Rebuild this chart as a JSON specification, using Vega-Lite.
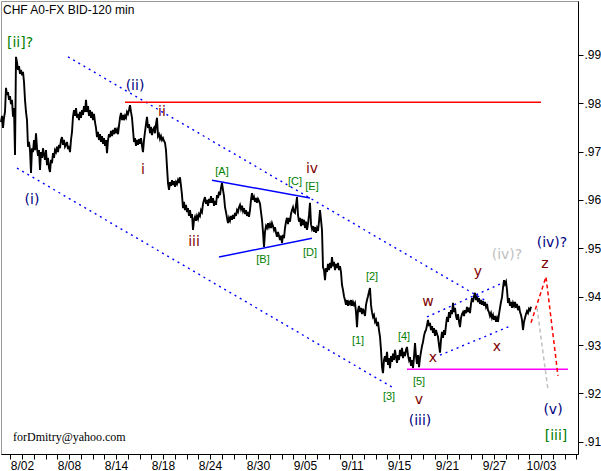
{
"$schema": "https://vega.github.io/schema/vega-lite/v6.json",
"width": 577, "height": 453, "autosize": "none",
"padding": {"left": 1, "top": 1, "right": 23, "bottom": 17},
"background": "white",
"config": {"view": {"stroke": "#999999", "strokeWidth": 1},
 "axis": {"grid": false, "title": null, "domainColor": "black", "tickColor": "black", "labelColor": "black", "labelFont": "Liberation Sans", "labelFontSize": 12, "tickSize": 5}},
"datasets": {
"price": [
{"bar":0,"price":0.9761},{"bar":1,"price":0.9774},{"bar":2,"price":0.9749},{"bar":3,"price":0.9770},{"bar":4,"price":0.9782},{"bar":5,"price":0.9832},{"bar":6,"price":0.9817},{"bar":7,"price":0.9823},{"bar":8,"price":0.9807},{"bar":9,"price":0.9815},{"bar":10,"price":0.9798},{"bar":11,"price":0.9807},{"bar":12,"price":0.9772},{"bar":13,"price":0.9790},{"bar":14,"price":0.9693},{"bar":15,"price":0.9896},{"bar":16,"price":0.9885},{"bar":17,"price":0.9869},{"bar":18,"price":0.9877},{"bar":19,"price":0.9861},{"bar":20,"price":0.9869},{"bar":21,"price":0.9858},{"bar":22,"price":0.9865},{"bar":23,"price":0.9844},{"bar":24,"price":0.9807},{"bar":25,"price":0.9782},{"bar":26,"price":0.9765},{"bar":27,"price":0.9710},{"bar":28,"price":0.9720},{"bar":29,"price":0.9703},{"bar":30,"price":0.9656},
{"bar":31,"price":0.9707},{"bar":32,"price":0.9699},{"bar":33,"price":0.9724},{"bar":34,"price":0.9703},{"bar":35,"price":0.9738},{"bar":36,"price":0.9707},{"bar":37,"price":0.9691},{"bar":38,"price":0.9703},{"bar":39,"price":0.9662},{"bar":40,"price":0.9699},{"bar":41,"price":0.9687},{"bar":42,"price":0.9707},{"bar":43,"price":0.9693},{"bar":44,"price":0.9683},{"bar":45,"price":0.9703},{"bar":46,"price":0.9672},{"bar":47,"price":0.9687},{"bar":48,"price":0.9666},{"bar":49,"price":0.9658},{"bar":50,"price":0.9683},{"bar":51,"price":0.9676},{"bar":52,"price":0.9697},{"bar":53,"price":0.9687},{"bar":54,"price":0.9703},{"bar":55,"price":0.9699},{"bar":56,"price":0.9710},{"bar":57,"price":0.9699},{"bar":58,"price":0.9714},{"bar":59,"price":0.9707},{"bar":60,"price":0.9724},{"bar":61,"price":0.9730},{"bar":62,"price":0.9714},{"bar":63,"price":0.9724},{"bar":64,"price":0.9710},{"bar":65,"price":0.9714},{"bar":66,"price":0.9720},{"bar":67,"price":0.9705},{"bar":68,"price":0.9712},{"bar":69,"price":0.9699},{"bar":70,"price":0.9724},{"bar":71,"price":0.9741},{"bar":72,"price":0.9772},
{"bar":73,"price":0.9786},{"bar":74,"price":0.9774},{"bar":75,"price":0.9790},{"bar":76,"price":0.9770},{"bar":77,"price":0.9778},{"bar":78,"price":0.9765},{"bar":79,"price":0.9782},{"bar":80,"price":0.9770},{"bar":81,"price":0.9786},{"bar":82,"price":0.9776},{"bar":83,"price":0.9794},{"bar":84,"price":0.9782},{"bar":85,"price":0.9807},{"bar":86,"price":0.9782},{"bar":87,"price":0.9794},{"bar":88,"price":0.9774},{"bar":89,"price":0.9786},{"bar":90,"price":0.9770},{"bar":91,"price":0.9782},{"bar":92,"price":0.9765},{"bar":93,"price":0.9778},{"bar":94,"price":0.9761},{"bar":95,"price":0.9749},{"bar":96,"price":0.9730},{"bar":97,"price":0.9741},{"bar":98,"price":0.9724},{"bar":99,"price":0.9736},{"bar":100,"price":0.9720},{"bar":101,"price":0.9732},{"bar":102,"price":0.9716},{"bar":103,"price":0.9728},{"bar":104,"price":0.9712},{"bar":105,"price":0.9724},{"bar":106,"price":0.9697},{"bar":107,"price":0.9724},{"bar":108,"price":0.9736},{"bar":109,"price":0.9730},{"bar":110,"price":0.9743},{"bar":111,"price":0.9732},{"bar":112,"price":0.9745},{"bar":113,"price":0.9736},{"bar":114,"price":0.9749},{"bar":115,"price":0.9738},{"bar":116,"price":0.9745},{"bar":117,"price":0.9736},{"bar":118,"price":0.9753},{"bar":119,"price":0.9770},{"bar":120,"price":0.9780},{"bar":121,"price":0.9765},{"bar":122,"price":0.9776},{"bar":123,"price":0.9765},{"bar":124,"price":0.9774},{"bar":125,"price":0.9770},{"bar":126,"price":0.9782},{"bar":127,"price":0.9778},{"bar":128,"price":0.9786},{"bar":129,"price":0.9796},
{"bar":130,"price":0.9782},{"bar":131,"price":0.9770},{"bar":132,"price":0.9745},{"bar":133,"price":0.9720},{"bar":134,"price":0.9728},{"bar":135,"price":0.9712},{"bar":136,"price":0.9724},{"bar":137,"price":0.9714},{"bar":138,"price":0.9726},{"bar":139,"price":0.9716},{"bar":140,"price":0.9728},{"bar":141,"price":0.9712},{"bar":142,"price":0.9699},{"bar":143,"price":0.9724},{"bar":144,"price":0.9741},{"bar":145,"price":0.9757},{"bar":146,"price":0.9772},{"bar":147,"price":0.9749},{"bar":148,"price":0.9757},{"bar":149,"price":0.9738},{"bar":150,"price":0.9751},{"bar":151,"price":0.9734},{"bar":152,"price":0.9745},{"bar":153,"price":0.9749},{"bar":154,"price":0.9738},{"bar":155,"price":0.9757},{"bar":156,"price":0.9770},{"bar":157,"price":0.9732},{"bar":158,"price":0.9736},{"bar":159,"price":0.9726},{"bar":160,"price":0.9732},{"bar":161,"price":0.9724},{"bar":162,"price":0.9728},{"bar":163,"price":0.9722},{"bar":164,"price":0.9718},
{"bar":165,"price":0.9703},{"bar":166,"price":0.9668},{"bar":167,"price":0.9635},{"bar":168,"price":0.9621},{"bar":169,"price":0.9637},{"bar":170,"price":0.9629},{"bar":171,"price":0.9641},{"bar":172,"price":0.9631},{"bar":173,"price":0.9639},{"bar":174,"price":0.9627},{"bar":175,"price":0.9637},{"bar":176,"price":0.9633},{"bar":177,"price":0.9641},{"bar":178,"price":0.9635},{"bar":179,"price":0.9647},{"bar":180,"price":0.9629},{"bar":181,"price":0.9610},{"bar":182,"price":0.9583},{"bar":183,"price":0.9596},{"bar":184,"price":0.9579},{"bar":185,"price":0.9590},{"bar":186,"price":0.9575},{"bar":187,"price":0.9583},{"bar":188,"price":0.9567},{"bar":189,"price":0.9579},{"bar":190,"price":0.9563},{"bar":191,"price":0.9571},{"bar":192,"price":0.9538},{"bar":193,"price":0.9559},{"bar":194,"price":0.9565},{"bar":195,"price":0.9557},{"bar":196,"price":0.9567},{"bar":197,"price":0.9561},{"bar":198,"price":0.9571},{"bar":199,"price":0.9567},{"bar":200,"price":0.9579},{"bar":201,"price":0.9575},{"bar":202,"price":0.9592},{"bar":203,"price":0.9600},{"bar":204,"price":0.9606},{"bar":205,"price":0.9592},{"bar":206,"price":0.9600},{"bar":207,"price":0.9588},{"bar":208,"price":0.9602},{"bar":209,"price":0.9594},{"bar":210,"price":0.9608},{"bar":211,"price":0.9594},{"bar":212,"price":0.9604},{"bar":213,"price":0.9588},{"bar":214,"price":0.9598},{"bar":215,"price":0.9590},{"bar":216,"price":0.9610},{"bar":217,"price":0.9604},{"bar":218,"price":0.9617},{"bar":219,"price":0.9610},{"bar":220,"price":0.9625},{"bar":221,"price":0.9635},
{"bar":222,"price":0.9621},{"bar":223,"price":0.9608},{"bar":224,"price":0.9585},{"bar":225,"price":0.9575},{"bar":226,"price":0.9563},{"bar":227,"price":0.9552},{"bar":228,"price":0.9563},{"bar":229,"price":0.9557},{"bar":230,"price":0.9567},{"bar":231,"price":0.9559},{"bar":232,"price":0.9569},{"bar":233,"price":0.9561},{"bar":234,"price":0.9573},{"bar":235,"price":0.9567},{"bar":236,"price":0.9579},{"bar":237,"price":0.9575},{"bar":238,"price":0.9585},{"bar":239,"price":0.9590},{"bar":240,"price":0.9581},{"bar":241,"price":0.9588},{"bar":242,"price":0.9577},{"bar":243,"price":0.9583},{"bar":244,"price":0.9571},{"bar":245,"price":0.9579},{"bar":246,"price":0.9567},{"bar":247,"price":0.9575},{"bar":248,"price":0.9565},{"bar":249,"price":0.9579},{"bar":250,"price":0.9600},{"bar":251,"price":0.9614},{"bar":252,"price":0.9600},{"bar":253,"price":0.9606},{"bar":254,"price":0.9596},{"bar":255,"price":0.9604},{"bar":256,"price":0.9594},{"bar":257,"price":0.9602},{"bar":258,"price":0.9598},{"bar":259,"price":0.9592},{"bar":260,"price":0.9575},{"bar":261,"price":0.9559},{"bar":262,"price":0.9534},{"bar":263,"price":0.9503},{"bar":264,"price":0.9534},{"bar":265,"price":0.9546},{"bar":266,"price":0.9542},{"bar":267,"price":0.9552},{"bar":268,"price":0.9544},{"bar":269,"price":0.9550},{"bar":270,"price":0.9542},{"bar":271,"price":0.9552},{"bar":272,"price":0.9546},{"bar":273,"price":0.9538},{"bar":274,"price":0.9544},{"bar":275,"price":0.9532},{"bar":276,"price":0.9524},{"bar":277,"price":0.9534},{"bar":278,"price":0.9526},{"bar":279,"price":0.9517},{"bar":280,"price":0.9526},{"bar":281,"price":0.9511},{"bar":282,"price":0.9528},{"bar":283,"price":0.9521},{"bar":284,"price":0.9542},{"bar":285,"price":0.9555},{"bar":286,"price":0.9563},
{"bar":287,"price":0.9550},{"bar":288,"price":0.9563},{"bar":289,"price":0.9555},{"bar":290,"price":0.9571},{"bar":291,"price":0.9579},{"bar":292,"price":0.9585},{"bar":293,"price":0.9575},{"bar":294,"price":0.9573},{"bar":295,"price":0.9590},{"bar":296,"price":0.9606},{"bar":297,"price":0.9569},{"bar":298,"price":0.9555},{"bar":299,"price":0.9563},{"bar":300,"price":0.9546},{"bar":301,"price":0.9561},{"bar":302,"price":0.9548},{"bar":303,"price":0.9559},{"bar":304,"price":0.9542},{"bar":305,"price":0.9555},{"bar":306,"price":0.9538},{"bar":307,"price":0.9550},{"bar":308,"price":0.9569},{"bar":309,"price":0.9594},{"bar":310,"price":0.9550},{"bar":311,"price":0.9540},{"bar":312,"price":0.9546},{"bar":313,"price":0.9534},{"bar":314,"price":0.9544},{"bar":315,"price":0.9532},{"bar":316,"price":0.9542},{"bar":317,"price":0.9536},{"bar":318,"price":0.9555},{"bar":319,"price":0.9579},{"bar":320,"price":0.9559},{"bar":321,"price":0.9538},{"bar":322,"price":0.9461},
{"bar":323,"price":0.9455},{"bar":324,"price":0.9434},{"bar":325,"price":0.9459},{"bar":326,"price":0.9451},{"bar":327,"price":0.9468},{"bar":328,"price":0.9455},{"bar":329,"price":0.9470},{"bar":330,"price":0.9459},{"bar":331,"price":0.9482},{"bar":332,"price":0.9463},{"bar":333,"price":0.9472},{"bar":334,"price":0.9455},{"bar":335,"price":0.9468},{"bar":336,"price":0.9459},{"bar":337,"price":0.9470},{"bar":338,"price":0.9455},{"bar":339,"price":0.9463},{"bar":340,"price":0.9451},{"bar":341,"price":0.9424},{"bar":342,"price":0.9414},{"bar":343,"price":0.9401},{"bar":344,"price":0.9393},{"bar":345,"price":0.9383},{"bar":346,"price":0.9393},{"bar":347,"price":0.9381},{"bar":348,"price":0.9389},{"bar":349,"price":0.9385},{"bar":350,"price":0.9393},{"bar":351,"price":0.9381},{"bar":352,"price":0.9389},{"bar":353,"price":0.9383},{"bar":354,"price":0.9387},{"bar":355,"price":0.9368},{"bar":356,"price":0.9337},{"bar":357,"price":0.9372},{"bar":358,"price":0.9381},{"bar":359,"price":0.9368},{"bar":360,"price":0.9377},{"bar":361,"price":0.9364},{"bar":362,"price":0.9375},{"bar":363,"price":0.9368},{"bar":364,"price":0.9360},{"bar":365,"price":0.9383},{"bar":366,"price":0.9393},{"bar":367,"price":0.9401},{"bar":368,"price":0.9410},{"bar":369,"price":0.9418},{"bar":370,"price":0.9383},{"bar":371,"price":0.9368},{"bar":372,"price":0.9358},{"bar":373,"price":0.9362},{"bar":374,"price":0.9348},{"bar":375,"price":0.9352},{"bar":376,"price":0.9339},{"bar":377,"price":0.9348},{"bar":378,"price":0.9331},{"bar":379,"price":0.9317},{"bar":380,"price":0.9290},{"bar":381,"price":0.9254},{"bar":382,"price":0.9242},
{"bar":383,"price":0.9269},{"bar":384,"price":0.9277},{"bar":385,"price":0.9265},{"bar":386,"price":0.9286},{"bar":387,"price":0.9259},{"bar":388,"price":0.9273},{"bar":389,"price":0.9252},{"bar":390,"price":0.9277},{"bar":391,"price":0.9265},{"bar":392,"price":0.9282},{"bar":393,"price":0.9269},{"bar":394,"price":0.9290},{"bar":395,"price":0.9275},{"bar":396,"price":0.9263},{"bar":397,"price":0.9279},{"bar":398,"price":0.9269},{"bar":399,"price":0.9290},{"bar":400,"price":0.9277},{"bar":401,"price":0.9294},{"bar":402,"price":0.9273},{"bar":403,"price":0.9286},{"bar":404,"price":0.9277},{"bar":405,"price":0.9290},{"bar":406,"price":0.9296},{"bar":407,"price":0.9279},{"bar":408,"price":0.9269},{"bar":409,"price":0.9275},{"bar":410,"price":0.9257},{"bar":411,"price":0.9269},{"bar":412,"price":0.9252},{"bar":413,"price":0.9275},{"bar":414,"price":0.9304},{"bar":415,"price":0.9277},{"bar":416,"price":0.9261},{"bar":417,"price":0.9279},{"bar":418,"price":0.9254},{"bar":419,"price":0.9273},{"bar":420,"price":0.9286},{"bar":421,"price":0.9298},{"bar":422,"price":0.9306},{"bar":423,"price":0.9319},{"bar":424,"price":0.9327},{"bar":425,"price":0.9331},{"bar":426,"price":0.9341},{"bar":427,"price":0.9352},
{"bar":428,"price":0.9339},{"bar":429,"price":0.9346},{"bar":430,"price":0.9331},{"bar":431,"price":0.9339},{"bar":432,"price":0.9325},{"bar":433,"price":0.9335},{"bar":434,"price":0.9319},{"bar":435,"price":0.9331},{"bar":436,"price":0.9323},{"bar":437,"price":0.9317},{"bar":438,"price":0.9300},{"bar":439,"price":0.9284},{"bar":440,"price":0.9310},{"bar":441,"price":0.9327},{"bar":442,"price":0.9315},{"bar":443,"price":0.9331},{"bar":444,"price":0.9321},{"bar":445,"price":0.9341},{"bar":446,"price":0.9358},{"bar":447,"price":0.9348},{"bar":448,"price":0.9368},{"bar":449,"price":0.9356},{"bar":450,"price":0.9372},{"bar":451,"price":0.9364},{"bar":452,"price":0.9387},{"bar":453,"price":0.9368},{"bar":454,"price":0.9377},{"bar":455,"price":0.9360},{"bar":456,"price":0.9352},{"bar":457,"price":0.9364},{"bar":458,"price":0.9348},{"bar":459,"price":0.9337},{"bar":460,"price":0.9356},{"bar":461,"price":0.9364},{"bar":462,"price":0.9368},{"bar":463,"price":0.9360},{"bar":464,"price":0.9372},{"bar":465,"price":0.9366},{"bar":466,"price":0.9379},{"bar":467,"price":0.9368},{"bar":468,"price":0.9377},{"bar":469,"price":0.9366},{"bar":470,"price":0.9385},{"bar":471,"price":0.9397},{"bar":472,"price":0.9389},{"bar":473,"price":0.9401},{"bar":474,"price":0.9408},{"bar":475,"price":0.9393},{"bar":476,"price":0.9399},{"bar":477,"price":0.9389},{"bar":478,"price":0.9397},{"bar":479,"price":0.9385},{"bar":480,"price":0.9393},{"bar":481,"price":0.9383},{"bar":482,"price":0.9391},{"bar":483,"price":0.9381},{"bar":484,"price":0.9389},{"bar":485,"price":0.9379},{"bar":486,"price":0.9385},{"bar":487,"price":0.9372},{"bar":488,"price":0.9368},{"bar":489,"price":0.9360},{"bar":490,"price":0.9366},{"bar":491,"price":0.9356},{"bar":492,"price":0.9362},{"bar":493,"price":0.9352},{"bar":494,"price":0.9360},{"bar":495,"price":0.9348},{"bar":496,"price":0.9356},{"bar":497,"price":0.9348},{"bar":498,"price":0.9364},{"bar":499,"price":0.9377},{"bar":500,"price":0.9389},{"bar":501,"price":0.9399},{"bar":502,"price":0.9418},{"bar":503,"price":0.9434},{"bar":504,"price":0.9426},{"bar":505,"price":0.9431},{"bar":506,"price":0.9414},{"bar":507,"price":0.9387},{"bar":508,"price":0.9397},{"bar":509,"price":0.9381},{"bar":510,"price":0.9389},{"bar":511,"price":0.9377},{"bar":512,"price":0.9387},{"bar":513,"price":0.9381},{"bar":514,"price":0.9389},{"bar":515,"price":0.9377},{"bar":516,"price":0.9385},{"bar":517,"price":0.9372},{"bar":518,"price":0.9381},{"bar":519,"price":0.9368},{"bar":520,"price":0.9362},{"bar":521,"price":0.9352},{"bar":522,"price":0.9331},{"bar":523,"price":0.9348},{"bar":524,"price":0.9356},{"bar":525,"price":0.9364},{"bar":526,"price":0.9370},{"bar":527,"price":0.9366},{"bar":528,"price":0.9375},{"bar":529,"price":0.9372},{"bar":530,"price":0.9379}
],
"guides": [
{"line":"channel upper","bar":67,"price":0.9896},{"line":"channel upper","bar":487,"price":0.9389},
{"line":"channel lower","bar":16,"price":0.9666},{"line":"channel lower","bar":391,"price":0.9213},
{"line":"wxy upper","bar":426,"price":0.9358},{"line":"wxy upper","bar":501,"price":0.9428},
{"line":"wxy lower","bar":439,"price":0.9279},{"line":"wxy lower","bar":509,"price":0.9339},
{"line":"triangle upper","bar":211,"price":0.9641},{"line":"triangle upper","bar":309,"price":0.9604},
{"line":"triangle lower","bar":218,"price":0.9482},{"line":"triangle lower","bar":311,"price":0.9521},
{"line":"resistance","bar":124,"price":0.9802},{"line":"resistance","bar":540,"price":0.9802},
{"line":"support","bar":406,"price":0.9250},{"line":"support","bar":567,"price":0.9250},
{"line":"projection","bar":530,"price":0.9346},{"line":"projection","bar":545,"price":0.9441},{"line":"projection","bar":557,"price":0.9236},
{"line":"alternate","bar":536,"price":0.9377},{"line":"alternate","bar":547,"price":0.9207}
],
"waves": [
{"bar":19,"price":0.9925,"text":"[ii]?","degree":"Minor"},
{"bar":555,"price":0.9112,"text":"[iii]","degree":"Minor"},
{"bar":31,"price":0.9600,"text":"(i)","degree":"Minute"},
{"bar":134,"price":0.9836,"text":"(ii)","degree":"Minute"},
{"bar":419,"price":0.9143,"text":"(iii)","degree":"Minute"},
{"bar":551,"price":0.9511,"text":"(iv)?","degree":"Minute"},
{"bar":552,"price":0.9166,"text":"(v)","degree":"Minute"},
{"bar":506,"price":0.9486,"text":"(iv)?","degree":"Alternate"},
{"bar":142,"price":0.9662,"text":"i","degree":"Minuette"},
{"bar":161,"price":0.9782,"text":"ii","degree":"Minuette"},
{"bar":193,"price":0.9513,"text":"iii","degree":"Minuette"},
{"bar":311,"price":0.9664,"text":"iv","degree":"Minuette"},
{"bar":418,"price":0.9186,"text":"v","degree":"Minuette"},
{"bar":427,"price":0.9389,"text":"w","degree":"Minuette"},
{"bar":432,"price":0.9273,"text":"x","degree":"Minuette"},
{"bar":477,"price":0.9451,"text":"y","degree":"Minuette"},
{"bar":496,"price":0.9296,"text":"x","degree":"Minuette"},
{"bar":544,"price":0.9468,"text":"z","degree":"Minuette"}
],
"subwaves": [
{"bar":221,"price":0.9658,"text":"[A]"},
{"bar":262,"price":0.9476,"text":"[B]"},
{"bar":294,"price":0.9637,"text":"[C]"},
{"bar":309,"price":0.9490,"text":"[D]"},
{"bar":311,"price":0.9627,"text":"[E]"},
{"bar":357,"price":0.9308,"text":"[1]"},
{"bar":371,"price":0.9441,"text":"[2]"},
{"bar":388,"price":0.9192,"text":"[3]"},
{"bar":403,"price":0.9317,"text":"[4]"},
{"bar":418,"price":0.9223,"text":"[5]"}
],
"notes": [
{"bar":2,"price":0.9984,"text":"CHF A0-FX BID-120 min","kind":"title"},
{"bar":12,"price":0.9101,"text":"forDmitry@yahoo.com","kind":"credit"}
]
},
"encoding": {
 "x": {"field":"bar","type":"quantitative","scale":{"domain":[0,577],"nice":false,"zero":false},
  "axis":{"orient":"bottom","values":[9,21,33,45,56,68,80,92,103,115,127,139,150,162,174,186,197,209,221,233,245,257,269,281,292,304,316,328,339,351,363,375,386,398,410,422,434,446,458,470,481,493,505,517,528,540,552,564,575],
   "labelExpr":"indexof([21,68,115,162,209,257,304,351,398,446,493,540], datum.value) >= 0 ? ['8/02','8/08','8/14','8/18','8/24','8/30','9/05','9/11','9/15','9/21','9/27','10/03'][indexof([21,68,115,162,209,257,304,351,398,446,493,540], datum.value)] : ''",
   "labelOverlap":false,"labelBound":false,"labelFlush":false,"labelPadding":1}},
 "y": {"field":"price","type":"quantitative","scale":{"domain":[0.90746,1.00115],"nice":false,"zero":false},
  "axis":{"orient":"right","values":[0.91,0.92,0.93,0.94,0.95,0.96,0.97,0.98,0.99],"labelExpr":"replace(format(datum.value,'.2f'),'0.','.')","labelPadding":1}}
},
"layer": [
 {"data":{"name":"price"},"mark":{"type":"line","color":"black","strokeWidth":1.9},"encoding":{}},
 {"data":{"name":"guides"},"transform":[{"filter":{"field":"line","oneOf":["channel upper","channel lower","wxy upper","wxy lower"]}}],
  "mark":{"type":"line","color":"#0000ff","strokeWidth":1.4,"strokeDash":[2,4]},"encoding":{"detail":{"field":"line"}}},
 {"data":{"name":"guides"},"transform":[{"filter":{"field":"line","oneOf":["triangle upper","triangle lower"]}}],
  "mark":{"type":"line","color":"#0000ff","strokeWidth":1.5},"encoding":{"detail":{"field":"line"}}},
 {"data":{"name":"guides"},"transform":[{"filter":{"field":"line","equal":"resistance"}}],
  "mark":{"type":"line","color":"#ff0000","strokeWidth":1.5},"encoding":{}},
 {"data":{"name":"guides"},"transform":[{"filter":{"field":"line","equal":"support"}}],
  "mark":{"type":"line","color":"#ff00ff","strokeWidth":1.5},"encoding":{}},
 {"data":{"name":"guides"},"transform":[{"filter":{"field":"line","equal":"projection"}}],
  "mark":{"type":"line","color":"#ff0000","strokeWidth":1.5,"strokeDash":[4,3]},"encoding":{}},
 {"data":{"name":"guides"},"transform":[{"filter":{"field":"line","equal":"alternate"}}],
  "mark":{"type":"line","color":"#c0c0c0","strokeWidth":1.5,"strokeDash":[4,3]},"encoding":{}},
 {"data":{"name":"waves"},"mark":{"type":"text","font":"DejaVu Sans","fontSize":14,"align":"center","baseline":"middle"},
  "encoding":{"text":{"field":"text"},"color":{"field":"degree","type":"nominal","legend":null,
   "scale":{"domain":["Minor","Minute","Minuette","Alternate"],"range":["#008000","#000080","#800000","#c0c0c0"]}}}},
 {"data":{"name":"subwaves"},"mark":{"type":"text","font":"Liberation Sans","fontSize":11,"align":"center","baseline":"middle","color":"#008000"},
  "encoding":{"text":{"field":"text"}}},
 {"data":{"name":"notes"},"transform":[{"filter":{"field":"kind","equal":"title"}}],
  "mark":{"type":"text","font":"Liberation Sans","fontSize":12,"align":"left","baseline":"alphabetic","color":"black"},
  "encoding":{"text":{"field":"text"}}},
 {"data":{"name":"notes"},"transform":[{"filter":{"field":"kind","equal":"credit"}}],
  "mark":{"type":"text","font":"Liberation Serif","fontSize":12,"align":"left","baseline":"alphabetic","color":"black"},
  "encoding":{"text":{"field":"text"}}}
]
}
